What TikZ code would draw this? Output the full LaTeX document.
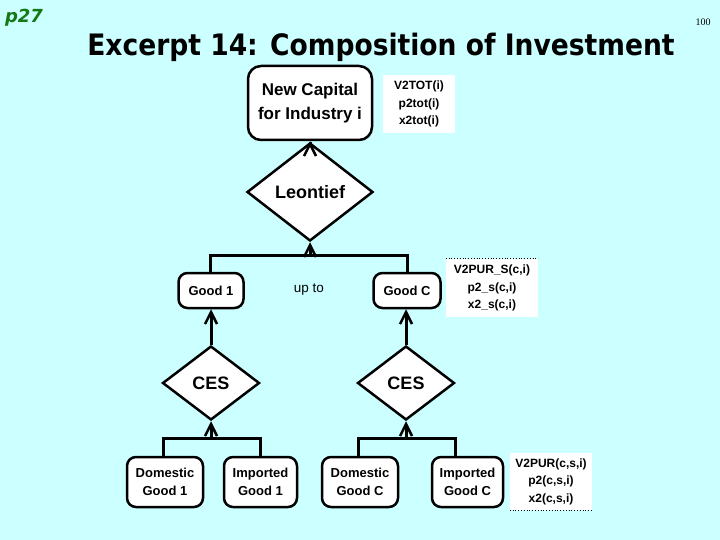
\documentclass[tikz,border=0pt]{standalone}
\usepackage{fontspec}
\setmainfont{Liberation Sans}
\newfontfamily\titlefont{DejaVu Sans Condensed}
\newfontfamily\pfont{DejaVu Sans}
\newfontfamily\numfont{Liberation Serif}
\usetikzlibrary{shapes.geometric,arrows.meta}
\definecolor{bg}{RGB}{204,255,255}
\definecolor{pgreen}{RGB}{20,120,20}
\tikzset{
  rbox/.style={draw=black, line width=2.5pt, fill=white, rounded corners=9pt, inner sep=0pt, align=center,
     font=\bfseries\fontsize{13}{18}\selectfont},
  dia/.style={draw=black, line width=2.5pt, fill=white, diamond, inner sep=0pt,
     font=\bfseries\fontsize{18}{22}\selectfont},
  info/.style={fill=white, inner sep=0pt, align=center, font=\bfseries\fontsize{12}{17.5}\selectfont},
  conn/.style={line width=3pt},
  arr/.style={line width=3pt, -{Straight Barb[length=12pt,width=12pt,line width=2.5pt]}},
}
\begin{document}
\begin{tikzpicture}[x=1pt,y=-1pt]
\fill[bg] (0,0) rectangle (720,540);
\useasboundingbox (0,0) rectangle (720,540);
\node (p27) at (24,18) {\pfont\bfseries\itshape\fontsize{18}{20}\selectfont\color{pgreen}p27};
\node (pg) at (703,22) {\numfont\fontsize{10}{12}\selectfont 100};
\node (title) at (381,47) {\titlefont\bfseries\fontsize{29.5}{34}\selectfont Excerpt 14: Composition of Investment};

\node[rbox, minimum width=124pt, minimum height=74pt, rounded corners=13pt, font=\bfseries\fontsize{17}{24}\selectfont] (ncap) at (310,103) {New Capital\\for Industry i};
\node[info, minimum width=72pt, minimum height=58pt] (info1) at (419,104) {V2TOT(i)\\p2tot(i)\\x2tot(i)};

\node[dia, minimum width=126pt, minimum height=98pt] (leon) at (310,192) {Leontief};

\node[rbox, minimum width=65pt, minimum height=35pt] (good1) at (211,290.5) {Good 1};
\node[rbox, minimum width=67pt, minimum height=35pt] (goodC) at (407,290.5) {Good C};
\node[font=\fontsize{13.5}{16}\selectfont] (upto) at (309,290) {up to};
\node[info, minimum width=92pt, minimum height=58pt] (info2) at (492,288) {V2PUR\_S(c,i)\\p2\_s(c,i)\\x2\_s(c,i)};
\draw[dotted, line width=0.8pt] (info2.north west) -- (info2.north east);

\node[dia, minimum width=97pt, minimum height=74pt] (ces1) at (211,383) {CES};
\node[dia, minimum width=97pt, minimum height=74pt] (ces2) at (406,383) {CES};

\node[rbox, minimum width=76pt, minimum height=50pt] (dom1) at (165,482) {Domestic\\Good 1};
\node[rbox, minimum width=73pt, minimum height=50pt] (imp1) at (260.5,482) {Imported\\Good 1};
\node[rbox, minimum width=76pt, minimum height=50pt] (domC) at (360,482) {Domestic\\Good C};
\node[rbox, minimum width=71pt, minimum height=50pt] (impC) at (467.5,482) {Imported\\Good C};
\node[info, minimum width=82pt, minimum height=57pt] (info3) at (551,481.5) {V2PUR(c,s,i)\\p2(c,s,i)\\x2(c,s,i)};
\draw[dotted, line width=0.8pt] (info3.south west) -- (info3.south east);

% connectors
\draw[arr] (leon.north) -- (ncap.south);

\coordinate (t1) at (210,255);
\coordinate (t2) at (407,255);
\coordinate (tm) at (310,255);
\draw[conn] (good1.north -| t1) -- (t1) -- (t2) -- (goodC.north -| t2);
\draw[arr] (tm) -- (leon.south);

\draw[arr] (ces1.north) -- (good1.south -| ces1.north);
\draw[arr] (ces2.north) -- (goodC.south -| ces2.north);

\coordinate (l1) at (163,438);
\coordinate (l2) at (260,438);
\coordinate (r1) at (358,438);
\coordinate (r2) at (455,438);
\draw[conn] (dom1.north -| l1) -- (l1) -- (l2) -- (imp1.north -| l2);
\draw[conn] (domC.north -| r1) -- (r1) -- (r2) -- (impC.north -| r2);
\draw[arr] (ces1.south |- l1) -- (ces1.south);
\draw[arr] (ces2.south |- r1) -- (ces2.south);
\end{tikzpicture}
\end{document}
